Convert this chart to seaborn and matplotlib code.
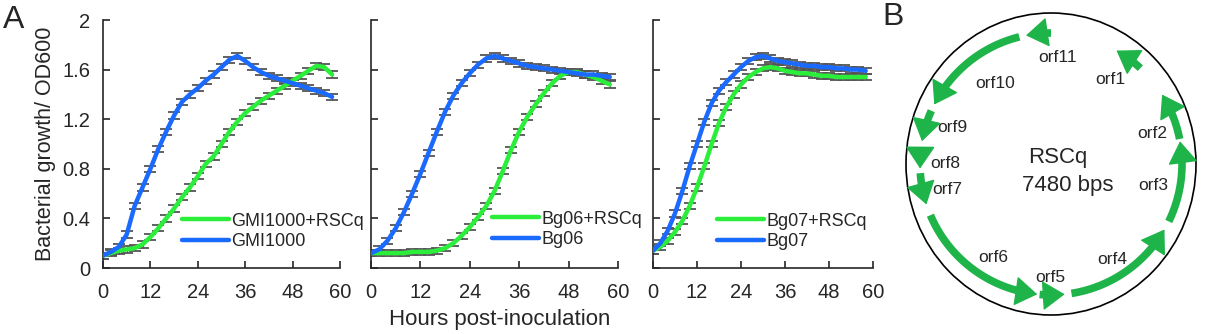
import numpy as np
import matplotlib
matplotlib.use("Agg")
import matplotlib.pyplot as plt
import seaborn as sns
import pandas as pd
from matplotlib.patches import Ellipse

# hours post-inoculation (every 2 h)
hours = list(range(0, 60, 2))

gmi1000 = [0.10, 0.13, 0.17, 0.27, 0.50, 0.65, 0.80, 0.96, 1.10, 1.23,
           1.34, 1.40, 1.45, 1.51, 1.56, 1.62, 1.68, 1.71, 1.67, 1.62,
           1.58, 1.55, 1.53, 1.51, 1.49, 1.47, 1.45, 1.43, 1.41, 1.38]
gmi1000_rscq = [0.10, 0.12, 0.14, 0.15, 0.16, 0.19, 0.25, 0.32, 0.40, 0.48,
                0.57, 0.65, 0.74, 0.84, 0.90, 1.00, 1.10, 1.18, 1.25, 1.30,
                1.35, 1.39, 1.43, 1.47, 1.51, 1.55, 1.59, 1.63, 1.62, 1.56]

bg06 = [0.12, 0.15, 0.22, 0.32, 0.45, 0.60, 0.76, 0.93, 1.10, 1.26,
        1.39, 1.49, 1.57, 1.64, 1.69, 1.71, 1.69, 1.67, 1.65, 1.63,
        1.62, 1.61, 1.60, 1.59, 1.58, 1.57, 1.56, 1.56, 1.55, 1.54]
bg06_rscq = [0.12, 0.12, 0.12, 0.12, 0.12, 0.13, 0.13, 0.13, 0.14, 0.16,
             0.20, 0.26, 0.33, 0.41, 0.50, 0.62, 0.78, 0.95, 1.10, 1.22,
             1.32, 1.41, 1.49, 1.55, 1.58, 1.58, 1.56, 1.54, 1.51, 1.48]

bg07 = [0.14, 0.20, 0.30, 0.44, 0.62, 0.82, 1.00, 1.18, 1.33, 1.43,
        1.50, 1.56, 1.62, 1.67, 1.70, 1.71, 1.69, 1.67, 1.66, 1.65,
        1.64, 1.63, 1.63, 1.62, 1.62, 1.61, 1.61, 1.60, 1.60, 1.59]
bg07_rscq = [0.14, 0.17, 0.22, 0.29, 0.38, 0.50, 0.65, 0.82, 1.00, 1.17,
             1.30, 1.40, 1.48, 1.54, 1.58, 1.61, 1.62, 1.61, 1.59, 1.58,
             1.57, 1.57, 1.56, 1.55, 1.55, 1.54, 1.54, 1.54, 1.54, 1.54]

err = 0.025

# plasmid map: orf name, start angle, end angle (deg, counterclockwise)
orf_names = ["orf1", "orf2", "orf3", "orf4", "orf5", "orf6",
             "orf7", "orf8", "orf9", "orf10", "orf11"]
orf_start = [47, 11, 334, 279, 265, 203, 184, 174, 156, 104, 90]
orf_end = [60, 32, 370, 330, 276, 264, 198, 182, 170, 153, 101]
orf_label_x = [1110, 1152, 1153, 1112, 1050, 993, 947, 945, 952, 995, 1058]
orf_label_y = [80, 133, 185, 260, 278, 257, 190, 163, 127, 83, 57]

GREEN = "#2aee3a"
BLUE = "#1a6aff"
ARROW = "#1fb44a"

sns.set_style("ticks")
plt.rcParams["font.family"] = ["Liberation Sans", "DejaVu Sans"]

fig = plt.figure(figsize=(12.06, 3.34), dpi=100)
W, H = 1206, 334

panels = [
    (103, 340, gmi1000_rscq, gmi1000, "GMI1000+RSCq", "GMI1000", 0.333, 0.147),
    (371, 618, bg06_rscq, bg06, "Bg06+RSCq", "Bg06", 0.49, 0.155),
    (653, 873, bg07_rscq, bg07, "Bg07+RSCq", "Bg07", 0.29, 0.147),
]

for i, (x0, x1, g, b, lg, lb, lx, ly) in enumerate(panels):
    ax = fig.add_axes([x0 / W, 1 - 268 / H, (x1 - x0) / W, 248 / H])
    df = pd.DataFrame({"h": hours * 2, "od": g + b,
                       "strain": [lg] * len(hours) + [lb] * len(hours)})
    for name in [lb, lg]:
        sub = df[df.strain == name]
        ax.errorbar(sub.h, sub.od, yerr=err, fmt="none", ecolor="#555555",
                    elinewidth=0.8, capsize=4, capthick=1.3, zorder=1)
    sns.lineplot(data=df, x="h", y="od", hue="strain", hue_order=[lg, lb],
                 palette=[GREEN, BLUE], linewidth=3.2, ax=ax, zorder=3)
    ax.set_xlim(0, 60)
    ax.set_ylim(0, 2)
    ax.set_xticks(range(0, 61, 12))
    ax.set_yticks([0, 0.4, 0.8, 1.2, 1.6, 2])
    ax.tick_params(direction="in", length=5, width=1.2, labelsize=14.5, pad=9)
    ax.tick_params(axis="x", pad=11)
    if i == 0:
        ax.set_yticklabels(["0", "0.4", "0.8", "1.2", "1.6", "2"])
        ax.set_ylabel("Bacterial growth/ OD600", fontsize=15.5, labelpad=5)
    else:
        ax.set_yticklabels([])
        ax.set_ylabel("")
    ax.set_xlabel("")
    for s in ["top", "right"]:
        ax.spines[s].set_visible(False)
    for s in ["left", "bottom"]:
        ax.spines[s].set_linewidth(1.2)
    ax.legend(loc="center left", bbox_to_anchor=(lx, ly), frameon=False,
              fontsize=13, handlelength=2.6, handletextpad=0.15,
              labelspacing=0.2, borderpad=0, borderaxespad=0)

fig.text(500 / W, 1 - 320 / H, "Hours post-inoculation", ha="center",
         va="center", fontsize=16)
fig.text(14 / W, 1 - 20 / H, "A", ha="center", va="center", fontsize=23)
fig.text(893 / W, 1 - 17 / H, "B", ha="center", va="center", fontsize=23)

# plasmid panel in pixel coordinates
axb = fig.add_axes([880 / W, 0, (W - 880) / W, 1])
axb.set_xlim(880, W)
axb.set_ylim(H, 0)
axb.axis("off")
cx, cy, r = 1051, 164, 131
axb.add_patch(Ellipse((cx, cy), 290, 302, fill=False, lw=1.2, color="black"))
for name, a0, a1, tx, ty in zip(orf_names, orf_start, orf_end,
                                orf_label_x, orf_label_y):
    t = np.radians(np.linspace(a0, a1 - 4, 40))
    axb.plot(cx + r * np.cos(t), cy - r * np.sin(t), color=ARROW, lw=5.5,
             solid_capstyle="butt")
    te = np.radians(a1)
    tb = np.radians(a1 - 5)
    axb.annotate("", xy=(cx + r * np.cos(te), cy - r * np.sin(te)),
                 xytext=(cx + r * np.cos(tb), cy - r * np.sin(tb)),
                 arrowprops=dict(arrowstyle="-|>,head_length=0.9,head_width=0.6",
                                 color=ARROW, lw=1, mutation_scale=16,
                                 shrinkA=0, shrinkB=0))
    axb.text(tx, ty, name, ha="center", va="center", fontsize=12.5)
axb.text(1058, 157, "RSCq", ha="center", va="center", fontsize=16)
axb.text(1068, 185, "7480 bps", ha="center", va="center", fontsize=16)

fig.savefig("out.png", dpi=100)
